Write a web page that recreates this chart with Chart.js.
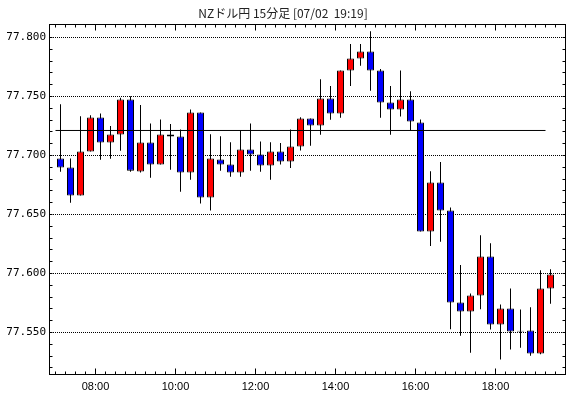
<!DOCTYPE html>
<html>
<head>
<meta charset="utf-8">
<script src="https://cdn.jsdelivr.net/npm/chart.js@4/dist/chart.umd.min.js"></script>
<style>
  html, body { margin: 0; padding: 0; background: #fff; }
  #contenedor { width: 570px; height: 398px; }
</style>
</head>
<body>
<div id="contenedor"><canvas id="grafica-velas" width="570" height="398"></canvas></div>
<script>
// --- 1. Datos: velas de 15 minutos (inicio de cada vela) ---
const horas = [
  '07:00', '07:15', '07:30', '07:45', '08:00', '08:15', '08:30', '08:45', '09:00', '09:15',
  '09:30', '09:45', '10:00', '10:15', '10:30', '10:45', '11:00', '11:15', '11:30', '11:45',
  '12:00', '12:15', '12:30', '12:45', '13:00', '13:15', '13:30', '13:45', '14:00', '14:15',
  '14:30', '14:45', '15:00', '15:15', '15:30', '15:45', '16:00', '16:15', '16:30', '16:45',
  '17:00', '17:15', '17:30', '17:45', '18:00', '18:15', '18:30', '18:45', '19:00', '19:15'
];
const apertura = [
  77.6975, 77.6898, 77.6661, 77.7034, 77.7322, 77.7110, 77.7178, 77.7475, 77.6864, 77.7110,
  77.6924, 77.7178, 77.7161, 77.6856, 77.7364, 77.6644, 77.6966, 77.6924, 77.6856, 77.7051,
  77.7008, 77.6915, 77.7034, 77.6949, 77.7076, 77.7314, 77.7254, 77.7483, 77.7356, 77.7720,
  77.7822, 77.7881, 77.7720, 77.7449, 77.7390, 77.7475, 77.7280, 77.6356, 77.6771, 77.6534,
  77.5754, 77.5678, 77.5814, 77.6144, 77.5568, 77.5703, 77.5514, 77.5517, 77.5322, 77.5873
];
const maximo = [
  77.7435, 77.6975, 77.7333, 77.7342, 77.7356, 77.7249, 77.7489, 77.7503, 77.7427, 77.7271,
  77.7305, 77.7266, 77.7220, 77.7390, 77.7364, 77.7181, 77.7164, 77.7113, 77.7212, 77.7271,
  77.7119, 77.7113, 77.7105, 77.7220, 77.7325, 77.7314, 77.7647, 77.7588, 77.7720, 77.7944,
  77.7944, 77.8054, 77.7734, 77.7588, 77.7720, 77.7545, 77.7305, 77.6867, 77.6944, 77.6559,
  77.6071, 77.5831, 77.6325, 77.6257, 77.5737, 77.5873, 77.5695, 77.5715, 77.6028, 77.6037
];
const minimo = [
  77.6862, 77.6599, 77.6661, 77.7034, 77.6963, 77.6972, 77.7040, 77.6862, 77.6856, 77.6811,
  77.6924, 77.6879, 77.6692, 77.6794, 77.6593, 77.6534, 77.6870, 77.6819, 77.6819, 77.6870,
  77.6862, 77.6794, 77.6924, 77.6895, 77.7042, 77.7082, 77.7175, 77.7302, 77.7319, 77.7588,
  77.7760, 77.7548, 77.7319, 77.7175, 77.7331, 77.7212, 77.6356, 77.6234, 77.6268, 77.5528,
  77.5472, 77.5328, 77.5698, 77.5525, 77.5271, 77.5356, 77.5370, 77.5302, 77.5316, 77.5743
];
const cierre = [
  77.6898, 77.6661, 77.7034, 77.7322, 77.7110, 77.7178, 77.7475, 77.6870, 77.7110, 77.6924,
  77.7178, 77.7161, 77.6856, 77.7364, 77.6644, 77.6975, 77.6924, 77.6856, 77.7051, 77.7008,
  77.6915, 77.7034, 77.6949, 77.7076, 77.7314, 77.7254, 77.7483, 77.7356, 77.7720, 77.7822,
  77.7881, 77.7720, 77.7449, 77.7390, 77.7475, 77.7288, 77.6356, 77.6771, 77.6534, 77.5754,
  77.5678, 77.5814, 77.6144, 77.5568, 77.5703, 77.5508, 77.5508, 77.5322, 77.5873, 77.5992
];
// linea horizontal de referencia (de 07:00 a 19:15)
const lineaReferencia = 77.7212;
const lineaDesde = '07:00';
const lineaHasta = '19:15';
// etiquetas de los ejes
const etiquetasHora = ['08:00', '10:00', '12:00', '14:00', '16:00', '18:00'];
const valoresEje = [77.55, 77.60, 77.65, 77.70, 77.75, 77.80];

// --- 2. Utilidades ---
// minutos desde las 07:00
function aMinutos(h) {
  const [hh, mm] = h.split(':').map(Number);
  return (hh - 7) * 60 + mm;
}
const centros = horas.map(h => aMinutos(h) + 7.5);
const colorVela = apertura.map((o, i) => cierre[i] >= o ? '#ff0000' : '#0000ff');

// --- 3. Plugin: marco y marcas pequeñas hacia dentro ---
const marcoConMarcas = {
  id: 'marcoConMarcas',
  afterDatasetsDraw(chart) {
    const { ctx, chartArea: a, scales } = chart;
    const xs = scales.x, ys = scales.y;
    const L = a.left + 0.5, R = a.right - 0.5, T = a.top + 0.5, B = a.bottom - 0.5;
    ctx.save();
    ctx.strokeStyle = '#000';
    ctx.lineWidth = 1;
    ctx.beginPath();
    // marcas del eje x cada 15 minutos, largas cada 2 horas
    for (let m = 0; m <= 765; m += 15) {
      const px = Math.floor(xs.getPixelForValue(m)) + 0.5;
      if (px <= L + 1 || px >= R - 1) continue;
      const largo = (m - 60) % 120 === 0 ? 6 : 3;
      ctx.moveTo(px, T); ctx.lineTo(px, T + largo);
      ctx.moveTo(px, B); ctx.lineTo(px, B - largo);
    }
    // marcas del eje y cada 0.01
    for (let k = 7752; k <= 7781; k++) {
      const py = Math.floor(ys.getPixelForValue(k / 100)) + 0.5;
      if (py <= T + 1 || py >= B - 1) continue;
      ctx.moveTo(L, py); ctx.lineTo(L + 3, py);
      ctx.moveTo(R, py); ctx.lineTo(R - 3, py);
    }
    ctx.stroke();
    ctx.strokeRect(L, T, R - L, B - T);
    ctx.restore();
  }
};

// --- 4. Gráfica ---
const ctx = document.getElementById('grafica-velas').getContext('2d');
new Chart(ctx, {
  type: 'bar',
  data: {
    datasets: [
      {
        type: 'line',
        data: [
          { x: aMinutos(lineaDesde), y: lineaReferencia },
          { x: aMinutos(lineaHasta), y: lineaReferencia }
        ],
        borderColor: '#000',
        borderWidth: 1,
        pointRadius: 0,
        order: 1
      },
      {
        // cuerpos
        data: centros.map((m, i) => ({ x: m, y: [apertura[i], cierre[i]] })),
        backgroundColor: colorVela,
        borderColor: '#000',
        borderWidth: 1,
        borderSkipped: false,
        barThickness: 7,
        grouped: false,
        inflateAmount: 0,
        order: 2
      },
      {
        // mechas
        data: centros.map((m, i) => ({ x: m, y: [minimo[i], maximo[i]] })),
        backgroundColor: '#000',
        borderWidth: 0,
        barThickness: 1,
        grouped: false,
        inflateAmount: 0,
        order: 3
      }
    ]
  },
  options: {
    responsive: false,
    animation: false,
    devicePixelRatio: 1,
    layout: { padding: { left: 0, right: 4, top: 0, bottom: 0 } },
    plugins: {
      legend: { display: false },
      tooltip: { enabled: false },
      title: {
        display: true,
        text: 'NZドル円 15分足 [07/02  19:19]',
        color: '#222',
        font: { family: '"Noto Sans CJK JP", sans-serif', size: 12, weight: 'normal', lineHeight: 1.25 },
        padding: { top: 6, bottom: 3 }
      }
    },
    scales: {
      x: {
        type: 'linear',
        offset: false,
        min: -9.75,
        max: 765.75,
        grid: { display: false, drawTicks: false, offset: false },
        border: { display: false },
        afterBuildTicks: s => { s.ticks = etiquetasHora.map(h => ({ value: aMinutos(h) })); },
        afterFit: s => { s.height = 23; },
        ticks: {
          color: '#000',
          padding: 5,
          maxRotation: 0,
          font: { family: '"Liberation Sans", sans-serif', size: 11 },
          callback: v => etiquetasHora.find(h => aMinutos(h) === v) || ''
        }
      },
      y: {
        min: 77.51398,
        max: 77.81144,
        grid: { color: '#000', lineWidth: 1, drawTicks: false },
        border: { display: false, dash: [1, 1] },
        afterBuildTicks: s => { s.ticks = valoresEje.map(v => ({ value: v })); },
        afterFit: s => { s.width = 49; },
        ticks: {
          color: '#000',
          padding: 3,
          font: { family: '"DejaVu Sans Mono", monospace', size: 11 },
          callback: v => v.toFixed(3)
        }
      }
    }
  },
  plugins: [marcoConMarcas]
});
</script>
</body>
</html>
